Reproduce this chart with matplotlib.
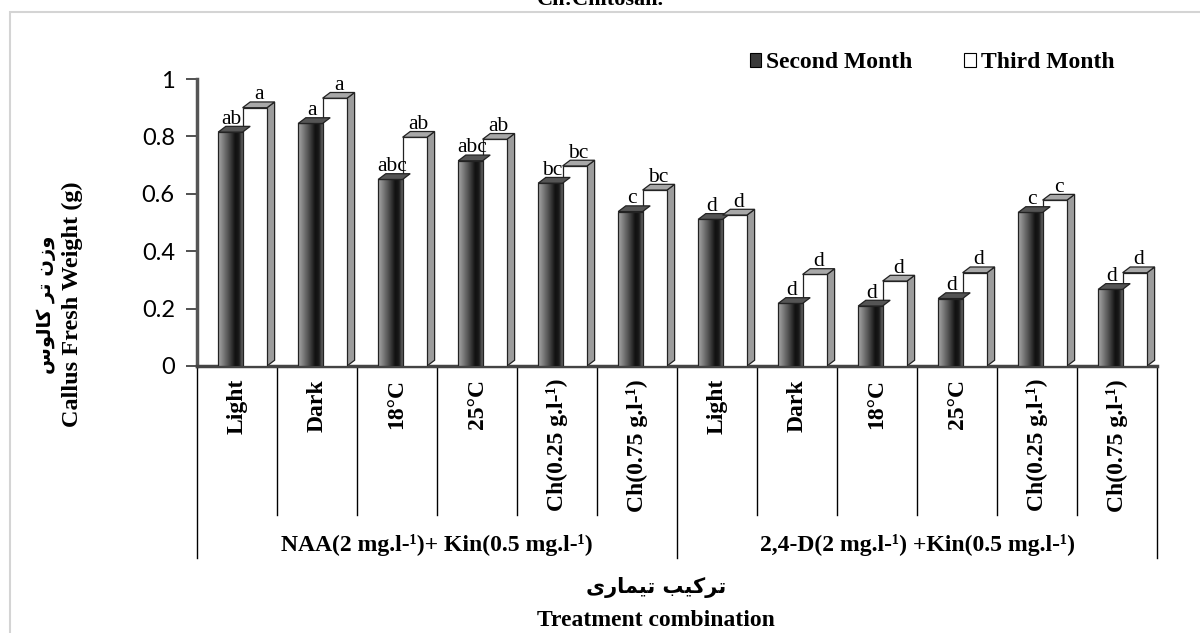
import numpy as np
import matplotlib
matplotlib.use("Agg")
import matplotlib.pyplot as plt
from matplotlib.patches import Polygon, Rectangle, Patch
from matplotlib.colors import LinearSegmentedColormap

# ---------------- data ----------------
categories = ["Light", "Dark", "18°C", "25°C", "Ch(0.25 g.l-¹)", "Ch(0.75 g.l-¹)",
              "Light", "Dark", "18°C", "25°C", "Ch(0.25 g.l-¹)", "Ch(0.75 g.l-¹)"]
groups = ["NAA(2 mg.l-¹)+ Kin(0.5 mg.l-¹)", "2,4-D(2 mg.l-¹) +Kin(0.5 mg.l-¹)"]
second_month = [0.815, 0.845, 0.65, 0.715, 0.637, 0.538, 0.511, 0.218, 0.209, 0.235, 0.535, 0.267]
third_month = [0.90, 0.933, 0.797, 0.79, 0.697, 0.613, 0.526, 0.319, 0.296, 0.325, 0.578, 0.325]
letters_second = ["ab", "a", "abc", "abc", "bc", "c", "d", "d", "d", "d", "c", "d"]
letters_third = ["a", "a", "ab", "ab", "bc", "bc", "d", "d", "d", "d", "c", "d"]
series_names = ["Second Month", "Third Month"]
yticks = [0, 0.2, 0.4, 0.6, 0.8, 1.0]
ytick_labels = ["0", "0.2", "0.4", "0.6", "0.8", "1"]
ylabel_fa = "وزن تر کالوس"
ylabel_en = "Callus Fresh Weight (g)"
xlabel_fa = "ترکیب تیماری"
xlabel_en = "Treatment combination"
title_text = "Ch:Chitosan."

# ---------------- simple Persian shaping ----------------
FORMS = {
    'ا': (0xFE8D, 0xFE8E, None, None),
    'ب': (0xFE8F, 0xFE90, 0xFE91, 0xFE92),
    'ت': (0xFE95, 0xFE96, 0xFE97, 0xFE98),
    'ر': (0xFEAD, 0xFEAE, None, None),
    'ز': (0xFEAF, 0xFEB0, None, None),
    'س': (0xFEB1, 0xFEB2, 0xFEB3, 0xFEB4),
    'ل': (0xFEDD, 0xFEDE, 0xFEDF, 0xFEE0),
    'م': (0xFEE1, 0xFEE2, 0xFEE3, 0xFEE4),
    'ن': (0xFEE5, 0xFEE6, 0xFEE7, 0xFEE8),
    'و': (0xFEED, 0xFEEE, None, None),
    'ک': (0xFB8E, 0xFB8F, 0xFB90, 0xFB91),
    'ی': (0xFBFC, 0xFBFD, 0xFBFE, 0xFBFF),
}


def shape(text):
    out = []
    n = len(text)
    for i, ch in enumerate(text):
        if ch not in FORMS:
            out.append(ch)
            continue
        prev = text[i - 1] if i > 0 else None
        nxt = text[i + 1] if i < n - 1 else None
        f = FORMS[ch]
        jp = prev in FORMS and FORMS[prev][2] is not None
        jn = nxt in FORMS and f[2] is not None
        if jp and jn:
            code = f[3]
        elif jp:
            code = f[1]
        elif jn:
            code = f[2]
        else:
            code = f[0]
        out.append(chr(code))
    return "".join(out[::-1])


# ---------------- figure ----------------
fig = plt.figure(figsize=(12, 6.33), dpi=100)
ax = fig.add_axes([197 / 1200, 1 - 366 / 633, 960 / 1200, 287 / 633])

serif = "Liberation Serif"
n = len(categories)
x = np.arange(n)
w = 0.305
dx = 0.095
dy = 0.02
dark_cmap = LinearSegmentedColormap.from_list(
    "dk", [(0.0, "#a8a8a8"), (0.45, "#4a4a4a"), (0.7, "#101010"), (0.85, "#1a1a1a"), (1.0, "#6a6a6a")])
grad = np.linspace(0, 1, 64).reshape(1, -1)


def bar3d(x0, v, dark):
    side = Polygon([(x0 + w, 0), (x0 + w + dx, dy), (x0 + w + dx, v + dy), (x0 + w, v)],
                   closed=True, facecolor="#9c9c9c", edgecolor="#222222", lw=0.9, zorder=2)
    ax.add_patch(side)
    if dark:
        ax.imshow(grad, cmap=dark_cmap, extent=[x0, x0 + w, 0, v], aspect="auto",
                  zorder=3, interpolation="bicubic")
        front = Rectangle((x0, 0), w, v, facecolor="none", edgecolor="#222222", lw=0.9, zorder=3.5)
    else:
        front = Rectangle((x0, 0), w, v, facecolor="white", edgecolor="#222222", lw=0.9, zorder=3.5)
    ax.add_patch(front)
    top = Polygon([(x0, v), (x0 + w, v), (x0 + w + dx, v + dy), (x0 + dx, v + dy)],
                  closed=True, facecolor="#555555" if dark else "#a8a8a8",
                  edgecolor="#222222", lw=0.9, zorder=3.6)
    ax.add_patch(top)


for i in range(n):
    xd = x[i] - 0.235
    xw = xd + w
    bar3d(xd, second_month[i], True)
    bar3d(xw, third_month[i], False)
    ax.text(xd + w / 2 + dx / 2 - 0.03, second_month[i] + dy - 0.008, letters_second[i],
            ha="center", va="bottom", fontsize=15.5, family=serif, zorder=5, clip_on=False)
    ax.text(xw + w / 2 + dx / 2, third_month[i] + dy - 0.008, letters_third[i],
            ha="center", va="bottom", fontsize=15.5, family=serif, zorder=5, clip_on=False)

ax.set_xlim(-0.5, n - 0.5)
ax.set_ylim(0, 1.0)
ax.set_yticks(yticks)
ax.set_yticklabels(ytick_labels, fontsize=17, family="Lato")
ax.set_xticks([])
ax.tick_params(axis="y", direction="out", length=8, width=1.2, color="#333333", pad=8)
for s in ["top", "right"]:
    ax.spines[s].set_visible(False)
ax.spines["left"].set_color("#555555")
ax.spines["left"].set_linewidth(2.5)
ax.spines["bottom"].set_color("#444444")
ax.spines["bottom"].set_linewidth(2.5)
ax.patch.set_alpha(0)

# category separators and labels below axis
trans = ax.get_xaxis_transform()
for k in range(n + 1):
    xb = k - 0.5
    ybot = -0.669 if k in (0, n // 2, n) else -0.519
    ax.plot([xb, xb], [0, ybot], color="black", lw=1.0, transform=trans, clip_on=False)
for i in range(n):
    ax.text(x[i], -0.045, categories[i], rotation=90, ha="center", va="top",
            fontsize=17, fontweight="bold", family=serif, transform=trans)
for g in range(2):
    ax.text(g * 6 + 2.5, -0.624, groups[g], ha="center", va="center",
            fontsize=17, fontweight="bold", family=serif, transform=trans)

# axis titles
fig.text(656 / 1200, 1 - 588 / 633, shape(xlabel_fa), ha="center", va="center",
         fontsize=15, fontweight="bold", family="DejaVu Sans")
fig.text(656 / 1200, 1 - 620 / 633, xlabel_en, ha="center", va="center",
         fontsize=17, fontweight="bold", family=serif)
fig.text(46 / 1200, 1 - 305 / 633, shape(ylabel_fa), rotation=90, ha="center", va="center",
         fontsize=14, fontweight="bold", family="DejaVu Sans")
fig.text(72 / 1200, 1 - 304 / 633, ylabel_en, rotation=90, ha="center", va="center",
         fontsize=17.5, fontweight="bold", family=serif)

# legend
handles = [Patch(facecolor="#3a3a3a", edgecolor="black", lw=0.8),
           Patch(facecolor="white", edgecolor="black", lw=0.8)]
leg = ax.legend(handles, series_names, loc="center", bbox_to_anchor=((932 - 197) / 960, (366 - 63) / 287),
                ncol=2, frameon=False, handlelength=0.5, handleheight=0.5, handletextpad=0.2,
                columnspacing=2.2, borderpad=0, prop={"family": serif, "weight": "bold", "size": 17})

# outer frame and clipped title
fig.patches.append(Rectangle((10 / 1200, -0.1), 1.2, 1.1 - 12 / 633, transform=fig.transFigure,
                             facecolor="none", edgecolor="#d4d4d4", lw=1.5, zorder=0))
fig.text(0.5, 1 - 5 / 633, title_text, ha="center", va="baseline",
         fontsize=16, fontweight="bold", family=serif)

fig.savefig("out.png", dpi=100)
